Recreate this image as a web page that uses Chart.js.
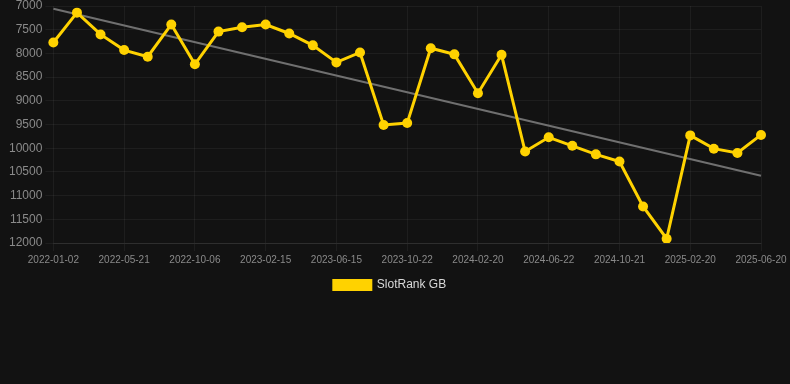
<!DOCTYPE html>
<html>
<head>
<meta charset="utf-8">
<script src="https://cdn.jsdelivr.net/npm/chart.js@4"></script>
<style>
  html, body { margin: 0; padding: 0; background: #121212; }
  #wrap { width: 790px; height: 301px; }
</style>
</head>
<body>
<div id="wrap"><canvas id="rankChart"></canvas></div>
<script>
// ngày đo
const dates = [
  '2022-01-02', '2022-02-18', '2022-04-05', '2022-05-21', '2022-07-06', '2022-08-21',
  '2022-10-06', '2022-11-18', '2023-01-01', '2023-02-15', '2023-03-26', '2023-05-06',
  '2023-06-15', '2023-07-27', '2023-09-09', '2023-10-22', '2023-12-01', '2024-01-10',
  '2024-02-20', '2024-04-01', '2024-05-12', '2024-06-22', '2024-08-01', '2024-09-10',
  '2024-10-21', '2024-12-01', '2025-01-10', '2025-02-20', '2025-04-01', '2025-05-11',
  '2025-06-20'
];

// thứ hạng SlotRank GB
const rankGB = [
  7770, 7140, 7600, 7930, 8070, 7390, 8230, 7540, 7450, 7390, 7580, 7830,
  8190, 7980, 9510, 9470, 7890, 8020, 8840, 8030, 10070, 9770, 9950, 10130,
  10280, 11230, 11910, 9730, 10010, 10100, 9720
];

// đường xu hướng: điểm đầu và điểm cuối
const trendStart = 7060;
const trendEnd = 10580;

const yTicks = { min: 7000, max: 12000, step: 500 };

const ctx = document.getElementById('rankChart').getContext('2d');
const chart = new Chart(ctx, {
  type: 'line',
  data: {
    labels: dates,
    datasets: [
      {
        label: 'SlotRank GB',
        data: rankGB,
        borderColor: '#FFD200',
        backgroundColor: '#FFD200',
        borderWidth: 3,
        pointRadius: 5,
        pointHoverRadius: 6,
        pointBackgroundColor: '#FFD200',
        pointBorderWidth: 0,
        tension: 0,
        order: 1
      },
      {
        label: 'trend',
        data: [
          { x: dates[0], y: trendStart },
          { x: dates[dates.length - 1], y: trendEnd }
        ],
        borderColor: '#707070',
        borderWidth: 2,
        pointRadius: 0,
        fill: false,
        order: 2
      }
    ]
  },
  options: {
    responsive: true,
    maintainAspectRatio: false,
    animation: false,
    layout: { padding: { left: 6, top: 0, right: 16, bottom: 0 } },
    plugins: {
      legend: {
        position: 'bottom',
        labels: {
          color: '#d8d8d8',
          boxWidth: 37,
          boxHeight: 9,
          font: { family: 'Arial, "Liberation Sans", sans-serif', size: 12 },
          filter: item => item.text !== 'trend'
        }
      },
      tooltip: { enabled: false }
    },
    scales: {
      x: {
        afterBuildTicks: scale => {
          scale.ticks = scale.ticks.filter((t, i) => i % 3 === 0);
        },
        afterFit: scale => { scale.paddingRight = 29; },
        ticks: {
          color: '#8a8a8a',
          autoSkip: false,
          maxRotation: 0,
          font: { family: 'Arial, "Liberation Sans", sans-serif', size: 10 }
        },
        grid: { color: 'rgba(255,255,255,0.05)' },
        border: { color: 'rgba(255,255,255,0.08)' }
      },
      y: {
        reverse: true,
        min: yTicks.min,
        max: yTicks.max,
        afterFit: scale => { scale.paddingTop = 6; },
        ticks: {
          stepSize: yTicks.step,
          color: '#8a8a8a',
          font: { family: 'Arial, "Liberation Sans", sans-serif', size: 12 },
          callback: v => String(v)
        },
        grid: { color: 'rgba(255,255,255,0.05)' },
        border: { display: false }
      }
    }
  }
});
</script>
</body>
</html>
